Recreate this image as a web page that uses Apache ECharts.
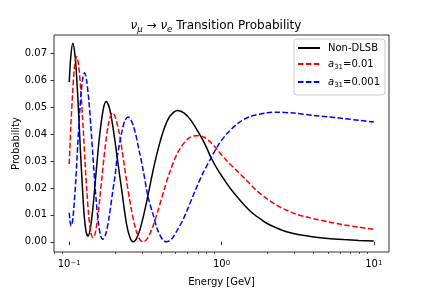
<!DOCTYPE html>
<html><head><meta charset="utf-8">
<script src="https://cdn.jsdelivr.net/npm/echarts@6/dist/echarts.min.js"></script>
<style>html,body{margin:0;padding:0;background:#fff}#c{width:432px;height:288px}</style>
</head><body><div id="c"></div>
<script>
const FONT = 'DejaVu Sans';
const seriesNames = ['Non-DLSB', 'a31=0.01', 'a31=0.001'];
const seriesColors = ['#000000', '#ff0000', '#0000ff'];

const energyBlack = [0.100,0.1025,0.1057,0.109,0.1118,0.115,0.1184,0.122,0.1253,0.129,0.1327,0.137,0.143,0.150,0.158,0.167,0.175,0.184,0.195,0.208,0.222,0.238,0.252,0.263,0.276,0.292,0.312,0.335,0.36,0.39,0.42,0.458,0.517,0.57,0.63,0.70,0.78,0.855,0.95,1.05,1.15,1.28,1.45,1.6,1.85,2.05,2.5,2.92,3.5,4.16,5.0,6.35,8.0,10.0];
const probBlack = [0.0593,0.0690,0.0737,0.0695,0.0615,0.0490,0.0340,0.0205,0.0100,0.0038,0.0021,0.0043,0.0125,0.0255,0.0390,0.0490,0.0521,0.0495,0.0415,0.0300,0.0185,0.0065,0.0012,0.0000,0.0011,0.0047,0.0112,0.0194,0.0280,0.0360,0.0420,0.0466,0.0488,0.0478,0.0451,0.0410,0.0362,0.0312,0.0265,0.0228,0.0196,0.0164,0.0129,0.0106,0.0080,0.0064,0.0043,0.0032,0.0023,0.0017,0.0012,0.0008,0.0005,0.0003];

const energyRed = [0.100,0.1025,0.1052,0.108,0.1118,0.115,0.119,0.1225,0.1263,0.130,0.1344,0.139,0.143,0.148,0.155,0.163,0.172,0.182,0.192,0.200,0.210,0.220,0.236,0.254,0.272,0.290,0.306,0.325,0.35,0.38,0.42,0.46,0.52,0.60,0.681,0.757,0.855,0.95,1.08,1.24,1.45,1.68,1.95,2.27,2.65,3.07,3.55,4.16,5.0,6.35,8.0,10.0];
const probRed = [0.0289,0.0430,0.0550,0.0643,0.0687,0.0660,0.0565,0.0455,0.0320,0.0200,0.0095,0.0033,0.0015,0.0030,0.0105,0.0225,0.0350,0.0445,0.0479,0.0466,0.0420,0.0357,0.0240,0.0130,0.0051,0.0010,0.0000,0.0011,0.0049,0.0110,0.0193,0.0263,0.0335,0.0382,0.0394,0.0390,0.0368,0.0338,0.0302,0.0268,0.0230,0.0193,0.0163,0.0138,0.0118,0.0103,0.0093,0.0084,0.0074,0.0063,0.0054,0.0046];

const energyBlue = [0.100,0.1015,0.103,0.1045,0.106,0.110,0.114,0.117,0.120,0.123,0.126,0.130,0.135,0.139,0.1446,0.150,0.156,0.161,0.166,0.173,0.182,0.193,0.200,0.206,0.215,0.222,0.232,0.244,0.265,0.29,0.306,0.33,0.356,0.38,0.41,0.436,0.47,0.517,0.56,0.601,0.68,0.76,0.855,0.95,1.08,1.28,1.52,2.0,2.33,3.0,4.03,5.0,6.35,8.0,10.0];
const probBlue = [0.0108,0.0072,0.0059,0.0068,0.0092,0.0213,0.0370,0.0477,0.0560,0.0610,0.0628,0.0600,0.0515,0.0420,0.0280,0.0160,0.0063,0.0022,0.0009,0.0025,0.0085,0.0187,0.0245,0.0310,0.0370,0.0410,0.0450,0.0463,0.0427,0.0330,0.0265,0.0165,0.0100,0.0045,0.0008,0.0000,0.0010,0.0047,0.0083,0.0123,0.0197,0.0258,0.0312,0.0358,0.0400,0.0440,0.0464,0.0479,0.0481,0.0478,0.0469,0.0464,0.0458,0.0451,0.0445];

const xTickValues = [0.1, 1, 10];
const xTickLabels = ['10{sup|\u22121}', '10{sup|0}', '10{sup|1}'];
const xMinorTickValues = [0.08,0.09,0.2,0.3,0.4,0.5,0.6,0.7,0.8,0.9,2,3,4,5,6,7,8,9];
const yTickValues = [0, 0.01, 0.02, 0.03, 0.04, 0.05, 0.06, 0.07];
const yTickLabels = ['0.00','0.01','0.02','0.03','0.04','0.05','0.06','0.07'];

const pairs = (xs, ys) => xs.map((x, i) => [x, ys[i]]);
const seriesData = [pairs(energyBlack, probBlack), pairs(energyRed, probRed), pairs(energyBlue, probBlue)];
const dashes = ['solid', [5.5, 2.4], [5.5, 2.4]];

const chart = echarts.init(document.getElementById('c'), null, {renderer: 'canvas'});
const xMin = 0.07943, xMax = 12.589;
chart.setOption({
  animation: false,
  backgroundColor: '#fff',
  textStyle: {fontFamily: FONT},
  title: {
    text: '{n|\u03bd}{s|\u03bc}{a| \u2192 }{n|\u03bd}{s|e}{a| Transition Probability}',
    left: 'center', top: 18, padding: [0, 0, 0, 11.4],
    textStyle: {
      fontFamily: FONT, fontSize: 12, fontWeight: 'normal', color: '#000',
      rich: {
        n: {fontFamily: FONT, fontSize: 12, fontWeight: 'normal', fontStyle: 'italic', color: '#000', lineHeight: 16, verticalAlign: 'middle'},
        a: {fontFamily: FONT, fontSize: 12, fontWeight: 'normal', color: '#000', lineHeight: 16, verticalAlign: 'middle'},
        s: {fontFamily: FONT, fontSize: 8.5, fontWeight: 'normal', fontStyle: 'italic', color: '#000', lineHeight: 8, verticalAlign: 'bottom'}
      }
    }
  },
  grid: {left: 54, right: 43, top: 35, bottom: 36, show: true, borderColor: '#000', borderWidth: 0.8, backgroundColor: 'transparent', outerBoundsMode: 'none', containLabel: false},
  legend: {
    orient: 'vertical', left: 294, top: 39,
    padding: [4, 5, 6, 3], itemGap: 6, itemWidth: 22, itemHeight: 12,
    borderColor: '#cccccc', borderWidth: 1, borderRadius: 3, backgroundColor: 'rgba(255,255,255,0.8)',
    data: seriesNames,
    itemStyle: {color: 'rgba(0,0,0,0)', borderColor: 'rgba(0,0,0,0)', borderWidth: 0, opacity: 0},
    formatter: function (name) {
      if (name.indexOf('a31=') === 0) return '{i|a}{s|31}{t|' + name.slice(3) + '}';
      return '{t|' + name + '}';
    },
    textStyle: {
      fontFamily: FONT, fontSize: 10, color: '#000', padding: [0, 0, 0, 3],
      rich: {
        t: {fontFamily: FONT, fontSize: 10, color: '#000', lineHeight: 14, verticalAlign: 'middle'},
        i: {fontFamily: FONT, fontSize: 10, fontStyle: 'italic', color: '#000', lineHeight: 14, verticalAlign: 'middle'},
        s: {fontFamily: FONT, fontSize: 7, color: '#000', lineHeight: 7, verticalAlign: 'bottom'}
      }
    }
  },
  xAxis: [{
    type: 'log', logBase: 10, min: xMin, max: xMax,
    name: 'Energy [GeV]', nameLocation: 'middle', nameGap: 25, nameMoveOverlap: false,
    nameTextStyle: {fontFamily: FONT, fontSize: 10, color: '#000'},
    axisLine: {show: false},
    splitLine: {show: false},
    axisTick: {show: true, inside: false, length: 3.5, lineStyle: {color: '#000', width: 0.8}, customValues: xTickValues},
    axisLabel: {
      show: true, margin: 7.5, customValues: xTickValues,
      formatter: function (v) { const i = xTickValues.findIndex(t => Math.abs(t - v) / t < 1e-6); return i >= 0 ? xTickLabels[i] : ''; },
      fontFamily: FONT, fontSize: 10, color: '#000',
      rich: {sup: {fontFamily: FONT, fontSize: 7, color: '#000', lineHeight: 7, verticalAlign: 'top'}}
    }
  }, {
    type: 'log', logBase: 10, min: xMin, max: xMax, position: 'bottom',
    axisLine: {show: false}, splitLine: {show: false},
    axisTick: {show: true, inside: false, length: 2, lineStyle: {color: '#000', width: 0.6}, customValues: xMinorTickValues},
    axisLabel: {show: false}
  }],
  yAxis: {
    type: 'value', min: -0.0038, max: 0.0768,
    name: 'Probability', nameLocation: 'middle', nameGap: 33, nameMoveOverlap: false,
    nameTextStyle: {fontFamily: FONT, fontSize: 10, color: '#000'},
    axisLine: {show: false}, splitLine: {show: false},
    axisTick: {show: true, inside: false, length: 3.5, lineStyle: {color: '#000', width: 0.8}, customValues: yTickValues},
    axisLabel: {
      show: true, margin: 7, customValues: yTickValues,
      formatter: function (v) { const i = yTickValues.findIndex(t => Math.abs(t - v) < 1e-9); return i >= 0 ? yTickLabels[i] : ''; },
      fontFamily: FONT, fontSize: 10, color: '#000'
    }
  },
  series: seriesNames.map((name, k) => ({
    type: 'line', name: name, data: seriesData[k], xAxisIndex: 0,
    showSymbol: false, symbol: 'none', smooth: 0.3,
    color: seriesColors[k],
    lineStyle: {color: seriesColors[k], width: 1.5, type: dashes[k]},
    z: 2 + k
  }))
});
</script>
</body></html>
